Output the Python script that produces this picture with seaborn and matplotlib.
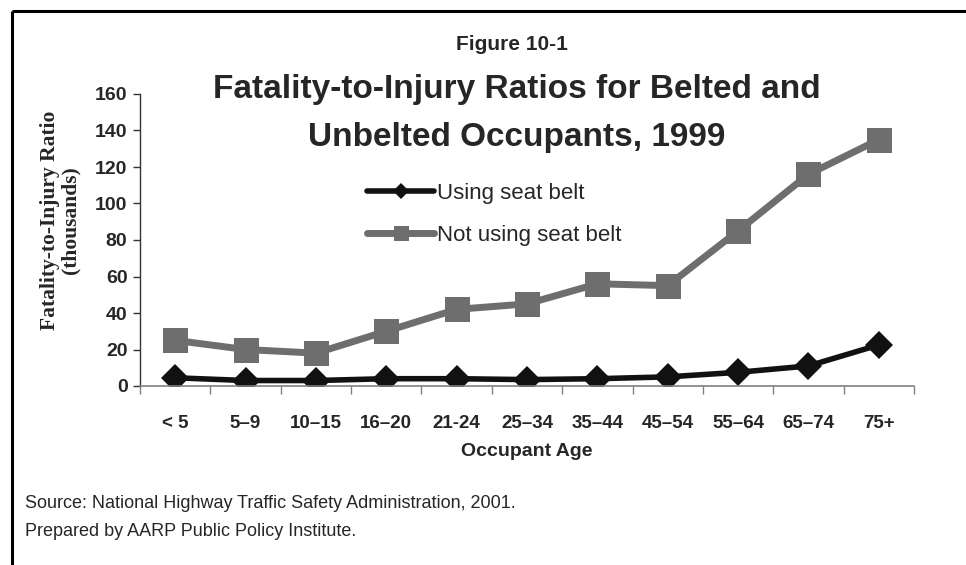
import numpy as np
import pandas as pd
import matplotlib
matplotlib.use("Agg")
import matplotlib.pyplot as plt
from matplotlib import font_manager
from matplotlib.lines import Line2D
import seaborn as sns

categories = ["< 5", "5\u20139", "10\u201315", "16\u201320", "21-24", "25\u201334",
              "35\u201344", "45\u201354", "55\u201364", "65\u201374", "75+"]
using_belt = [4.5, 3, 3, 4, 4, 3.5, 4, 5, 7.5, 11, 22.5]
not_using_belt = [25, 20, 18, 30, 42, 45, 56, 55, 85, 116, 135]
y_ticks = [0, 20, 40, 60, 80, 100, 120, 140, 160]

sns.set_theme(style="white")
names = {f.name for f in font_manager.fontManager.ttflist}
narrow = "Liberation Sans Narrow" if "Liberation Sans Narrow" in names else "Liberation Sans"
plt.rcParams['font.family'] = [narrow, 'DejaVu Sans']

df = pd.DataFrame({
    "age": categories * 2,
    "x": list(range(len(categories))) * 2,
    "value": using_belt + not_using_belt,
    "series": ["Using seat belt"] * len(categories) + ["Not using seat belt"] * len(categories),
})

fig = plt.figure(figsize=(9.66, 5.65), dpi=100)
ax = fig.add_axes([140/966, 1-386/565, (914-140)/966, (386-94)/565])

sns.lineplot(data=df[df.series == "Not using seat belt"], x="x", y="value", ax=ax,
             color="#6e6e6e", linewidth=5, marker="s", markersize=18,
             markeredgewidth=0, label="Not using seat belt")
sns.lineplot(data=df[df.series == "Using seat belt"], x="x", y="value", ax=ax,
             color="#111111", linewidth=4, marker="D", markersize=14,
             markeredgewidth=0, label="Using seat belt")

ax.set_xlim(-0.5, len(categories) - 0.5)
ax.set_ylim(0, 160)
ax.set_yticks(y_ticks)
ax.set_yticklabels([str(v) for v in y_ticks], fontsize=14, fontweight="bold")
ax.set_xticks(range(len(categories)))
ax.set_xticklabels(categories, fontsize=13.5, fontweight="bold")
ax.set_xticks(np.arange(-0.5, len(categories), 1), minor=True)
ax.tick_params(axis="x", which="major", length=0, pad=21)
ax.tick_params(axis="x", which="minor", length=6, width=1, color="#808080", direction="out", bottom=True)
ax.tick_params(axis="y", which="major", length=5, width=1, color="#333333", direction="out", left=True, pad=4)

for s in ["top", "right"]:
    ax.spines[s].set_visible(False)
ax.spines["bottom"].set_color("#808080")
ax.spines["bottom"].set_linewidth(1.2)
ax.spines["left"].set_color("#333333")
ax.spines["left"].set_linewidth(1)
ax.grid(False)

ax.set_xlabel("Occupant Age", fontsize=14, fontweight="bold", labelpad=8)
ax.set_ylabel("Fatality-to-Injury Ratio\n(thousands)", fontsize=15.5, fontweight="bold",
              family=["Liberation Serif", "DejaVu Serif"], linespacing=1.05)
ax.yaxis.set_label_coords(-0.077, 0.568)

handles, labels = ax.get_legend_handles_labels()
order = [labels.index("Using seat belt"), labels.index("Not using seat belt")]
leg = ax.legend([handles[i] for i in order], [labels[i] for i in order],
                loc="upper left", bbox_to_anchor=(0.268, 0.765), frameon=False,
                fontsize=16, handlelength=3.0, handletextpad=0.15, labelspacing=0.95,
                numpoints=1, markerscale=0.6)

fig.text(0.530, 1-45/565, "Figure 10-1", ha="center", va="center", fontsize=15, fontweight="bold")
fig.text(0.535, 1-89/565, "Fatality-to-Injury Ratios for Belted and", ha="center", va="center",
         fontsize=24, fontweight="bold")
fig.text(0.535, 1-137/565, "Unbelted Occupants, 1999", ha="center", va="center",
         fontsize=24, fontweight="bold")

fig.text(25/966, 1-503/565, "Source: National Highway Traffic Safety Administration, 2001.",
         ha="left", va="center", fontsize=13)
fig.text(25/966, 1-531/565, "Prepared by AARP Public Policy Institute.",
         ha="left", va="center", fontsize=13)

fig.add_artist(Line2D([12/966, 1], [1-11/565, 1-11/565], color="black", linewidth=2.2,
                      transform=fig.transFigure, solid_capstyle="butt"))
fig.add_artist(Line2D([12/966, 12/966], [1-11/565, 0], color="black", linewidth=2.2,
                      transform=fig.transFigure, solid_capstyle="butt"))

fig.savefig("out.png", dpi=100)
